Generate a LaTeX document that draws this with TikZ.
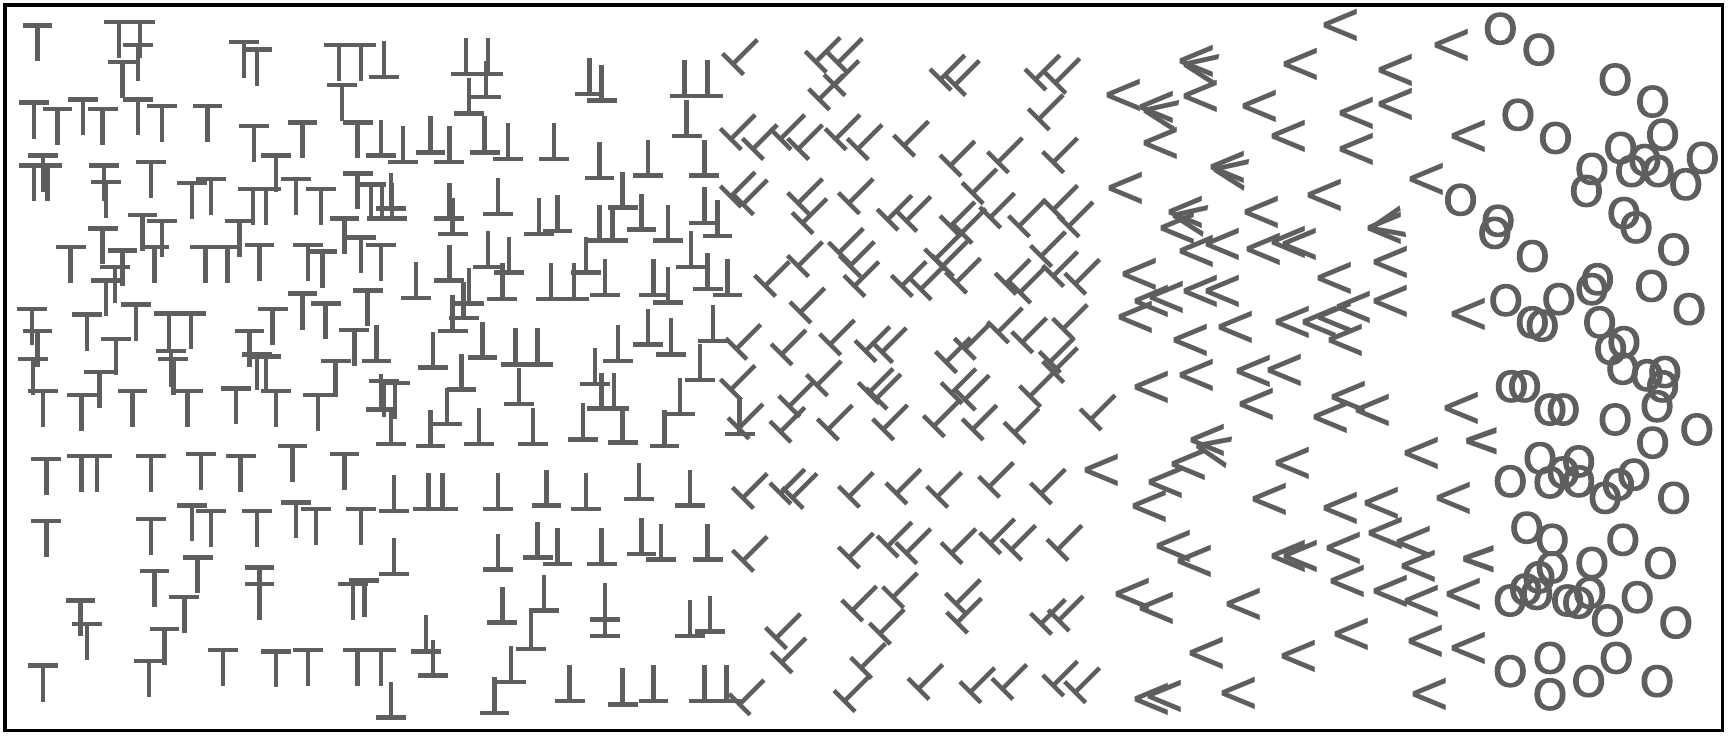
\documentclass[tikz,border=0pt]{standalone}
\usepackage{fontspec}
\setmainfont{DejaVu Sans}
\newfontfamily\ofont[FakeBold=2.5]{DejaVu Sans}
\definecolor{glc}{RGB}{94,94,94}
\newcommand{\ltx}{\scalebox{1}[1.15]{<}}
\newcommand{\otx}{\scalebox{1.06}[1]{O}}
\tikzset{
  gl/.style={draw=glc, line width=2pt},
  tglyph/.pic={\draw[gl] (-13.5,0)--(13.5,0) (0,0)--(0,32.5);},
  bglyph/.pic={\draw[gl] (-13.5,0)--(13.5,0) (0,0)--(0,-32.5);},
  rglyph/.pic={\draw[gl] (-9.5,-9.5)--(9.5,9.5) (0,0)--(22,-22);},
  lt/.style={inner sep=0pt, text=glc, font=\fontsize{24}{24}\selectfont},
  ltb/.style={inner sep=0pt, text=glc, font=\fontsize{22}{22}\selectfont\bfseries},
  oo/.style={inner sep=0pt, text=glc, font=\fontsize{19}{19}\ofont}
}
\begin{document}
\begin{tikzpicture}[x=0.5pt,y=-0.5pt]
\useasboundingbox (0,0) rectangle (1568,667);
\draw[line width=1.4pt] (4.5,4.5) rectangle (1560,662);
% T glyphs
\foreach \x/\y in {34/23,108/20,127/20,125/41,111/56,221/38,233/45,307/41,327/41,310/77,
31/93,52/99,75/90,93/99,125/90,147/96,188/96,230/114,274/111,324/111,
39/141,31/150,43/150,94/150,96/165,137/147,174/166,191/162,250/141,229/171,241/171,268/162,291/171,324/157,336/167,
129/195,147/200,93/207,217/200,312/198,327/215,64/224,111/227,140/224,186/224,206/224,235/222,279/222,292/228,345/222,
104/242,96/254,123/276,79/285,29/280,274/266,295/275,333/263,153/284,173/284,247/280,
34/300,105/307,226/300,321/299,155/318,157/325,30/325,233/321,241/323,304/327,
90/337,39/354,74/358,120/354,170/354,214/352,250/354,288/358,348/345,358/347,
42/416,74/413,88/413,137/413,182/411,218/413,265/404,312/411,
42/472,137/470,174/458,191/463,233/463,268/455,286/461,327/461,
179/505,140/517,235/514,235/529,167/541,320/529,330/526,73/544,79/565,
149/570,135/599,39/603,202/589,250/590,279/589,324/589,345/589}
  \pic at (\x,\y) {tglyph};
% inverted T glyphs
\foreach \x/\y in {348/70,422/67,442/67,425/103,440/88,534/85,545/91,620/87,641/87,622/123,
345/141,365/147,390/138,407/147,439/138,460/144,502/144,543/161,587/159,638/159,
354/189,346/198,355/198,407/198,410/212,451/194,488/212,505/209,564/188,543/218,555/218,581/208,605/218,638/202,650/214,
377/270,407/254,442/242,461/247,455/271,425/275,499/271,520/271,531/247,548/267,592/267,605/274,626/242,641/262,659/267,
341/327,410/300,420/288,437/324,467/330,487/330,392/333,587/312,608/321,646/309,560/327,
345/371,354/402,390/404,418/353,405/384,434/402,470/366,483/402,539/348,545/370,556/370,634/344,528/398,564/401,616/375,602/404,670/393,
357/463,388/461,401/461,451/461,495/458,531/461,579/452,625/458,
357/520,451/516,487/505,505/511,545/511,581/502,599/507,641/507,
455/564,493/553,386/590,392/612,481/588,548/576,548/561,625/576,643/572,
354/650,463/618,448/646,516/635,564/638,592/635,638/635,658/635}
  \pic at (\x,\y) {bglyph};
% rotated T glyphs
\foreach \x/\y in {664/58,739/56,759/57,756/77,742/90,852/72,865/77,938/72,956/75,941/108,
662/126,682/135,707/126,723/135,757/126,777/135,819/132,861/150,904/147,954/147,
662/178,673/185,723/184,727/202,769/184,804/199,821/200,881/175,861/205,871/211,897/197,923/205,954/190,968/205,
693/259,723/241,725/283,760/229,770/241,774/259,817/259,847/235,854/241,866/256,834/262,911/257,924/265,943/232,954/250,974/257,
667/316,708/321,752/312,784/318,799/319,857/328,874/316,904/301,926/310,963/298,951/328,
662/353,669/388,707/391,715/368,740/349,750/389,787/356,794/361,800/389,846/386,862/356,874/362,881/389,919/392,933/359,954/337,988/380,
673/451,707/447,718/451,769/450,812/447,849/450,896/441,943/447,
673/508,769/505,804/495,821/501,862/501,897/492,916/498,958/498,
772/553,809/541,866/547,867/564,703/578,708/600,797/574,943/565,959/562,
780/605,765/635,670/638,832/624,879/627,908/624,954/621,974/627}
  \pic at (\x,\y) {rglyph};
% less-than glyphs
\foreach \x/\y [count=\i] in {1214/24,1084/57,1178/60,1264/65,1315/42,1018/88,1048/99,1088/89,1141/98,1229/104,1264/96,1051/131,1167/125,1229/137,1330/125,1292/164,1112/153,1020/172,1200/178,1074/194,1143/194,1067/208,1254/208,1084/229,1108/223,1145/227,1167/221,1177/223,1260/239,1032/250,1209/253,1057/271,1043/274,1088/265,1108/265,1260/274,1226/280,1209/289,1029/289,1119/298,1171/293,1195/293,1219/310,1330/286,1079/310,
1043/352,1084/341,1136/338,1164/337,1138/368,1205/379,1222/361,1243/373,1324/371,1094/400,1077/422,1171/421,1288/412,1056/438,1041/460,1150/454,1214/462,1252/457,1317/453,1063/496,1082/510,1167/505,1178/505,1217/498,1255/484,1281/493,1285/514,1221/528,1260/537,1288/546,1326/540,1026/540,1048/552,1127/549,1224/576,1291/582,1330/589,1093/593,1176/596,1043/635,1055/632,1122/629,1295/630,998/427}
  \node[lt] (lt\i) at (\x,\y) {\ltx};
\foreach \x/\y/\a [count=\i] in {1087/62/-10,1051/104/-10,1115/158/-10,1077/199/-10,1257/205/12,1099/408/-12}
  \node[lt,rotate=\a] (lr\i) at (\x,\y) {\ltx};
\node[ltb] (lb1) at (1342,400) {<};
\node[ltb] (lb2) at (1340,507) {<};
% O glyphs
\foreach \x/\y [count=\i] in {1359/26,1394/45,1463/72,1497/92,1375/104,1409/125,1506/122,1468/134,1442/153,1478/155,1490/145,1502/155,1542/143,1527/167,1437/173,1323/181,1471/193,1482/206,1357/200,1354/211,1516/226,1388/232,1364/272,1412/271,1447/253,1442/262,1496/259,1530/280,1388/292,1397/295,1449/292,1459/316,1471/310,
1369/350,1381/350,1404/371,1416/371,1463/380,1470/334,1492/340,1508/337,1506/350,1501/368,1537/389,1497/401,1368/436,1395/415,1404/437,1416/428,1430/418,1430/436,1454/451,1466/439,1480/430,1516/451,1383/478,1406/489,1470/489,1442/510,1504/510,1406/514,1394/523,1382/534,1368/544,1392/538,1420/544,1430/546,1440/537,1483/541,1456/562,1518/564,1368/608,1404/596,1464/596,1439/617,1501/617,1404/629}
  \node[oo] (o\i) at (\x,\y) {\otx};
\end{tikzpicture}
\end{document}
